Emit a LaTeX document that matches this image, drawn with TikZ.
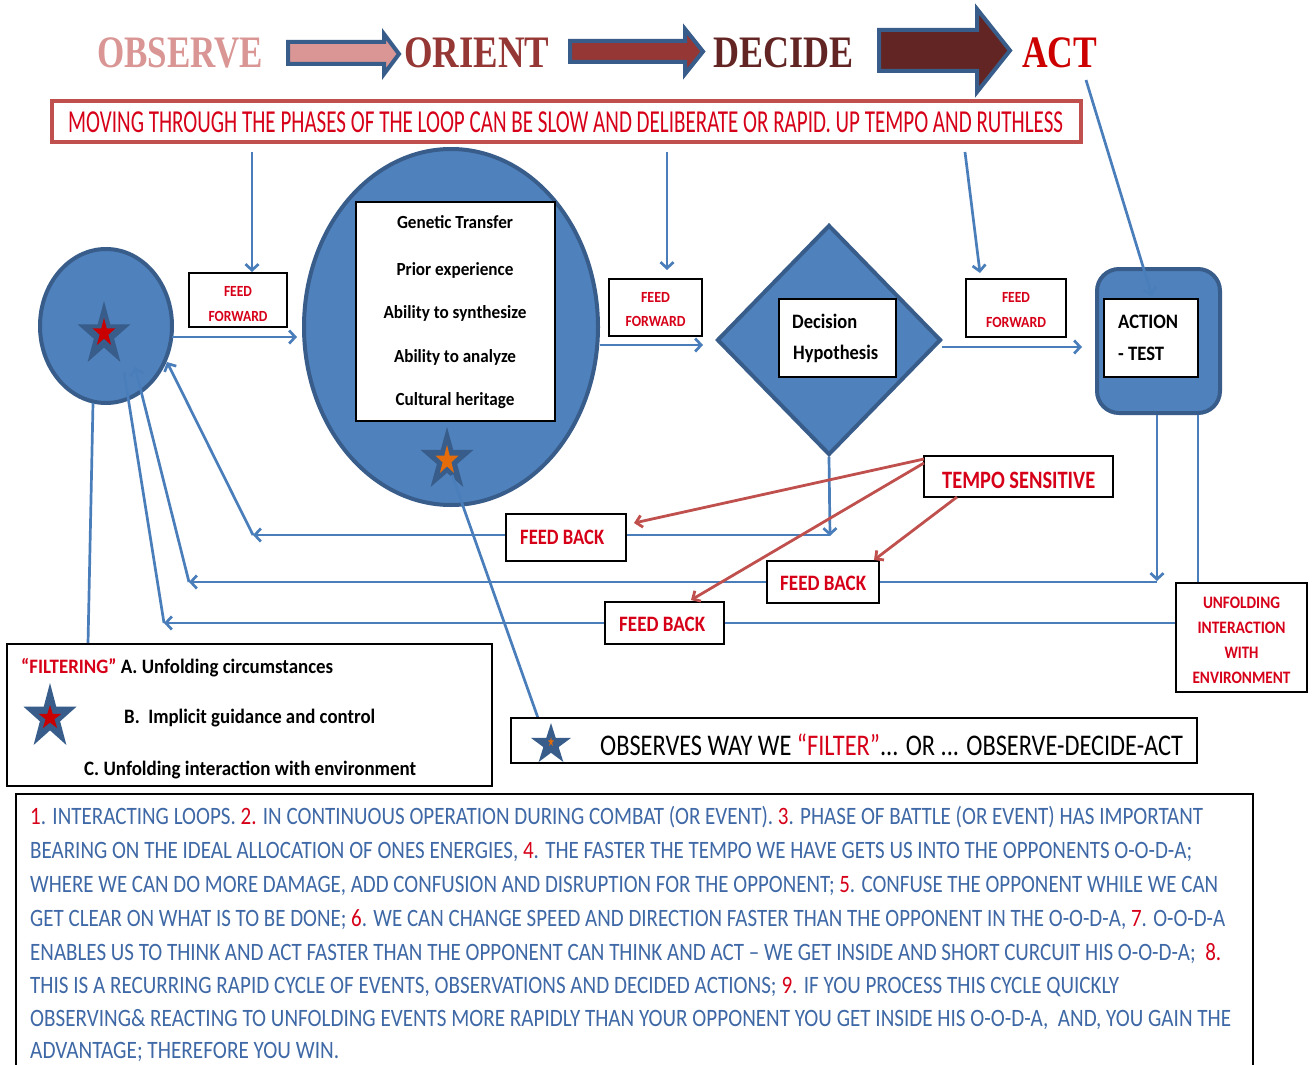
\documentclass[tikz,border=0pt]{standalone}
\usepackage{fontspec}
\usepackage{graphicx}
\setmainfont{Carlito}
\newfontfamily\hfont{Liberation Serif}
\usetikzlibrary{arrows.meta,shapes.geometric}
\definecolor{bfill}{HTML}{4F81BD}
\definecolor{bline}{HTML}{385D8A}
\definecolor{connc}{HTML}{4A7EBB}
\definecolor{rline}{HTML}{C0504D}
\definecolor{tred}{RGB}{215,0,25}
\definecolor{starred}{RGB}{200,0,0}
\definecolor{pblue}{RGB}{62,104,166}
\definecolor{obsc}{HTML}{D99694}
\definecolor{oric}{HTML}{953735}
\definecolor{decc}{HTML}{632523}
\definecolor{actc}{RGB}{205,0,0}
\definecolor{staro}{HTML}{E46C0A}
\newcommand\fw[2]{\resizebox{#1pt}{\height}{#2}}
\newcommand\fs[1]{\fontsize{#1pt}{#1pt}\selectfont}
\newcommand\rd[1]{\textcolor{tred}{#1}}
\newcommand\mystar[5]{\fill[#5,shift={(#1,#2)},xscale=#3/1.902,yscale=#4/1.809] (0,0) -- (0.2245,0.691) -- (0.951,0.691) -- (0.363,1.118) -- (0.588,1.809) -- (0,1.382) -- (-0.588,1.809) -- (-0.363,1.118) -- (-0.951,0.691) -- (-0.2245,0.691) -- cycle;}
\begin{document}
\begin{tikzpicture}[x=1pt,y=-1pt,
  conn/.style={draw=connc, line width=2.7pt},
  arr/.style={-{Straight Barb[length=6pt,width=13pt]}},
  rarr/.style={draw=rline, line width=2.8pt, -{Straight Barb[length=6pt,width=12pt]}},
  shapeb/.style={fill=bfill, draw=bline, line width=4pt, inner sep=0pt},
  wbox/.style={draw=black, fill=white, line width=1.8pt, inner sep=0pt},
  txt/.style={inner sep=0pt, anchor=base},
  txtw/.style={inner sep=0pt, anchor=base west},
  blockarr/.style={draw=bline, line width=4pt, line join=miter}]
\useasboundingbox (0,0) rectangle (1314,1065);
\fill[white] (0,0) rectangle (1314,1065);

% header block arrows
\path[blockarr, fill=obsc] (288,42) -- (384,42) -- (384,34) -- (399,54) -- (384,74) -- (384,64) -- (288,64) -- cycle;
\path[blockarr, fill=oric] (570,41) -- (685,41) -- (685,29) -- (703,51.5) -- (685,74) -- (685,62) -- (570,62) -- cycle;
\path[blockarr, fill=decc] (879,30) -- (977,30) -- (977,9) -- (1010,50.5) -- (977,92) -- (977,71) -- (879,71) -- cycle;

% header words
\node[txtw,text=obsc] (hobs) at (97,67) {\fw{166}{\hfont\bfseries\fs{45}OBSERVE}};
\node[txtw,text=oric] (hori) at (404,67) {\fw{145}{\hfont\bfseries\fs{45}ORIENT}};
\node[txtw,text=decc] (hdec) at (713,67) {\fw{140}{\hfont\bfseries\fs{45}DECIDE}};
\node[txtw,text=actc] (hact) at (1022,67) {\fw{75}{\hfont\bfseries\fs{45}ACT}};

% banner
\node[draw=rline, line width=4pt, minimum width=1029pt, minimum height=41pt, inner sep=0pt] (banner) at (566.5,121.5) {};
\node[txtw,text=tred] (bantxt) at (68,132) {\fw{995}{\fs{32}MOVING THROUGH THE PHASES OF THE LOOP CAN BE SLOW AND DELIBERATE OR RAPID. UP TEMPO AND RUTHLESS}};

% main shapes
\node[shapeb, ellipse, minimum width=132pt, minimum height=154pt] (c1) at (106,326) {};
\node[shapeb, ellipse, minimum width=294pt, minimum height=356pt] (c2) at (451,327) {};
\node[shapeb, diamond, minimum width=224pt, minimum height=230pt] (dia) at (829,340) {};
\node[shapeb, rounded corners=22pt, minimum width=123pt, minimum height=144pt] (act) at (1158.5,341) {};

% stars in shapes
\mystar{104}{301}{53}{61}{bline}
\mystar{104}{318}{23}{27}{starred}
\mystar{447}{427}{53}{60}{bline}
\mystar{447}{445}{23}{28}{staro}

% inner white boxes
\node[wbox, minimum width=199pt, minimum height=219pt] (orbox) at (455.5,311.5) {};
\node[wbox, minimum width=117pt, minimum height=78pt] (decbox) at (837.5,338) {};
\node[wbox, minimum width=94pt, minimum height=78pt] (actbox) at (1151,338) {};

\node[txt] (g1) at (455,228) {\fw{116}{\bfseries\fs{18.5}Genetic Transfer}};
\node[txt] (g2) at (455,275) {\fw{117}{\bfseries\fs{18.5}Prior experience}};
\node[txt] (g3) at (455,318) {\fw{143}{\bfseries\fs{18.5}Ability to synthesize}};
\node[txt] (g4) at (455,362) {\fw{122}{\bfseries\fs{18.5}Ability to analyze}};
\node[txt] (g5) at (455,405) {\fw{119}{\bfseries\fs{18.5}Cultural heritage}};

\node[txtw] (d1) at (792,328) {\fw{65}{\bfseries\fs{20.5}Decision}};
\node[txtw] (d2) at (793,359) {\fw{85}{\bfseries\fs{20.5}Hypothesis}};
\node[txtw] (a1) at (1118,328) {\fw{60}{\bfseries\fs{20.5}ACTION}};
\node[txtw] (a2) at (1118,360) {\fw{46}{\bfseries\fs{20.5}- TEST}};

% feed forward arrows from banner
\coordinate (ff1top) at (252,152);
\coordinate (ff2top) at (667,152);
\coordinate (ff3top) at (965,152);
\coordinate (actfoot) at (1086,80);
\draw[conn,arr] (ff1top) -- (252,272);
\draw[conn,arr] (ff2top) -- (667,270);
\draw[conn,arr] (ff3top) -- (980,273);
\draw[conn,arr] (actfoot) -- (1152,296);

% forward connectors
\draw[conn,arr] (172,337) -- (297,337);
\draw[conn,arr] (600,345) -- (703,345);
\draw[conn,arr] (942,347) -- (1082,347);

% feedback connectors
\coordinate (fbA) at (253,535);
\coordinate (fbB) at (189,582);
\coordinate (fbC) at (164,623);
\draw[conn,arr] (dia.south) -- (830,536);
\draw[conn,arr] (830,535) -- (fbA);
\draw[conn,arr] (fbA) -- (167,362);
\draw[conn,arr] (1157,415) -- (1157,581);
\draw[conn,arr] (1157,582) -- (fbB);
\draw[conn,arr] (fbB) -- (135,367);
\draw[conn] (1198,415) -- (1198,583);
\draw[conn,arr] (1176,623) -- (fbC);
\draw[conn] (fbC) -- (124,372);
\draw[conn] (93,403) -- (88,644);
\draw[conn] (452,475) -- (538,718);

% label boxes
\node[wbox, minimum width=98pt, minimum height=54pt] (ff1) at (238,300) {};
\node[wbox, minimum width=93pt, minimum height=57pt] (ff2) at (655.5,307.5) {};
\node[wbox, minimum width=100pt, minimum height=58pt] (ff3) at (1016,308) {};
\node[txt,text=tred] (ff1a) at (238,296) {\fw{28}{\bfseries\fs{15.5}FEED}};
\node[txt,text=tred] (ff1b) at (238,321) {\fw{59}{\bfseries\fs{15.5}FORWARD}};
\node[txt,text=tred] (ff2a) at (655.5,302) {\fw{29}{\bfseries\fs{15.5}FEED}};
\node[txt,text=tred] (ff2b) at (655.5,326) {\fw{60}{\bfseries\fs{15.5}FORWARD}};
\node[txt,text=tred] (ff3a) at (1016,302) {\fw{28}{\bfseries\fs{15.5}FEED}};
\node[txt,text=tred] (ff3b) at (1016,327) {\fw{60}{\bfseries\fs{15.5}FORWARD}};

\node[wbox, minimum width=120pt, minimum height=47pt] (fb1) at (566,537.5) {};
\node[wbox, minimum width=112pt, minimum height=42pt] (fb2) at (823,582) {};
\node[wbox, minimum width=119pt, minimum height=42pt] (fb3) at (664.5,623) {};
\node[txtw,text=tred] (fb1t) at (520,544) {\fw{84}{\bfseries\fs{22}FEED BACK}};
\node[txtw,text=tred] (fb2t) at (780,590) {\fw{86}{\bfseries\fs{22}FEED BACK}};
\node[txtw,text=tred] (fb3t) at (619,631) {\fw{86}{\bfseries\fs{22}FEED BACK}};

\node[wbox, minimum width=189pt, minimum height=41pt] (tempo) at (1018.5,476.5) {};
\node[txtw,text=tred] (tempot) at (942,488) {\fw{153}{\bfseries\fs{25}TEMPO SENSITIVE}};

\node[wbox, minimum width=131pt, minimum height=109pt] (unf) at (1241.5,637.5) {};
\node[txt,text=tred] (u1) at (1241.5,608) {\fw{77}{\bfseries\fs{17.5}UNFOLDING}};
\node[txt,text=tred] (u2) at (1241.5,633) {\fw{88}{\bfseries\fs{17.5}INTERACTION}};
\node[txt,text=tred] (u3) at (1241.5,658) {\fw{34}{\bfseries\fs{17.5}WITH}};
\node[txt,text=tred] (u4) at (1241.5,683) {\fw{98}{\bfseries\fs{17.5}ENVIRONMENT}};

% tempo sensitive red arrows
\coordinate (tA) at (924,459);
\coordinate (tB) at (924,463);
\coordinate (tC) at (957,497);
\draw[rarr] (tA) -- (634,523);
\draw[rarr] (tB) -- (691,600);
\draw[rarr] (tC) -- (874,560);

% filtering box
\node[wbox, minimum width=485pt, minimum height=142pt] (filt) at (249.5,715) {};
\mystar{50}{683}{53}{62}{bline}
\mystar{50}{705}{23}{23}{starred}
\node[txtw] (f1) at (21,673) {\fw{312}{\bfseries\fs{20.5}\rd{“FILTERING”} A. Unfolding circumstances}};
\node[txtw] (f2) at (124,723) {\fw{251}{\bfseries\fs{20.5}B.\ \ Implicit guidance and control}};
\node[txtw] (f3) at (84,775) {\fw{332}{\bfseries\fs{20.5}C. Unfolding interaction with environment}};

% observes box
\node[wbox, minimum width=686pt, minimum height=45pt] (obsbox) at (854,740.5) {};
\mystar{551}{723}{40}{39}{bline}
\mystar{551}{737}{6}{9}{staro}
\node[txtw] (obst) at (600,755) {\fw{583}{\fs{30}OBSERVES WAY WE \rd{“FILTER”}... OR ... OBSERVE-DECIDE-ACT}};

% paragraph box
\node[wbox, minimum width=1237pt, minimum height=300pt] (para) at (634.5,944) {};
\node[txtw,text=pblue] (p1) at (30,824) {\fw{1173}{\fs{25}\rd{1}. INTERACTING LOOPS. \rd{2.} IN CONTINUOUS OPERATION DURING COMBAT (OR EVENT). \rd{3}. PHASE OF BATTLE (OR EVENT) HAS IMPORTANT}};
\node[txtw,text=pblue] (p2) at (30,858) {\fw{1162}{\fs{25}BEARING ON THE IDEAL ALLOCATION OF ONES ENERGIES, \rd{4}. THE FASTER THE TEMPO WE HAVE GETS US INTO THE OPPONENTS O-O-D-A;}};
\node[txtw,text=pblue] (p3) at (30,892) {\fw{1188}{\fs{25}WHERE WE CAN DO MORE DAMAGE, ADD CONFUSION AND DISRUPTION FOR THE OPPONENT; \rd{5}. CONFUSE THE OPPONENT WHILE WE CAN}};
\node[txtw,text=pblue] (p4) at (30,926) {\fw{1195}{\fs{25}GET CLEAR ON WHAT IS TO BE DONE; \rd{6}. WE CAN CHANGE SPEED AND DIRECTION FASTER THAN THE OPPONENT IN THE O-O-D-A, \rd{7}. O-O-D-A}};
\node[txtw,text=pblue] (p5) at (30,960) {\fw{1191}{\fs{25}ENABLES US TO THINK AND ACT FASTER THAN THE OPPONENT CAN THINK AND ACT – WE GET INSIDE AND SHORT CURCUIT HIS O-O-D-A;\ \ \rd{8.}}};
\node[txtw,text=pblue] (p6) at (30,993) {\fw{1089}{\fs{25}THIS IS A RECURRING RAPID CYCLE OF EVENTS, OBSERVATIONS AND DECIDED ACTIONS; \rd{9}. IF YOU PROCESS THIS CYCLE QUICKLY}};
\node[txtw,text=pblue] (p7) at (30,1026) {\fw{1201}{\fs{25}OBSERVING\& REACTING TO UNFOLDING EVENTS MORE RAPIDLY THAN YOUR OPPONENT YOU GET INSIDE HIS O-O-D-A,\ \ AND, YOU GAIN THE}};
\node[txtw,text=pblue] (p8) at (30,1058) {\fw{309}{\fs{25}ADVANTAGE; THEREFORE YOU WIN.}};
\end{tikzpicture}
\end{document}
